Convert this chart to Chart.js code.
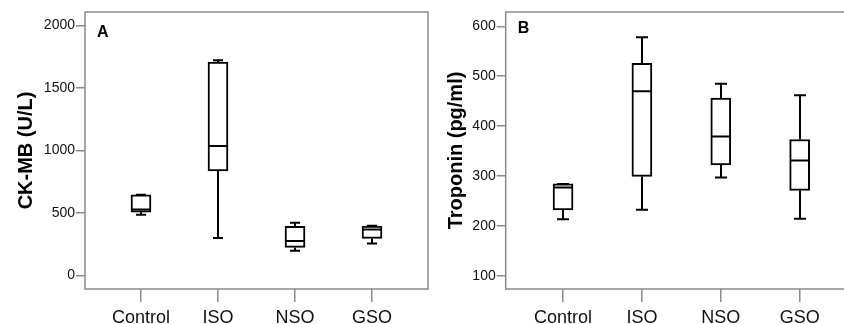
<!DOCTYPE html>
<html>
<head>
<meta charset="utf-8">
<script src="https://cdn.jsdelivr.net/npm/chart.js@4"></script>
<style>
  html, body { margin: 0; padding: 0; background: #fff; overflow: hidden; }
  body { width: 844px; height: 324px; position: relative; }
  .panel { position: absolute; top: 0; height: 324px; }
</style>
</head>
<body>
<div class="panel" style="left:0;width:432px"><canvas id="chartA" width="432" height="324"></canvas></div>
<div class="panel" style="left:420px;width:440px"><canvas id="chartB" width="440" height="324"></canvas></div>
<script>
// groups on the x axis
var categories = ['Control', 'ISO', 'NSO', 'GSO'];

// panel A: CK-MB (U/L) box plot values
var ckmbMin = [485, 299, 197, 256];
var ckmbQ1 = [505, 835, 224, 296];
var ckmbMedian = [528, 1035, 275, 368];
var ckmbQ3 = [645, 1707, 392, 395];
var ckmbMax = [645, 1722, 421, 397];
var ckmbTicks = [0, 500, 1000, 1500, 2000];

// panel B: Troponin (pg/ml) box plot values
var tropMin = [213, 232, 297, 214];
var tropQ1 = [232, 299, 322, 271];
var tropMedian = [277, 470, 379, 331];
var tropQ3 = [284, 526, 456, 373];
var tropMax = [284, 578, 485, 462];
var tropTicks = [100, 200, 300, 400, 500, 600];

Chart.defaults.font.family = '"Liberation Sans", Arial, sans-serif';
Chart.defaults.devicePixelRatio = 1;

var frameColor = '#8a8a8a';

/* draw whiskers, caps and median lines on top of the floating bars */
var boxPlotPlugin = {
    id: 'boxPlot',
    afterDatasetsDraw: function(chart, args, opts) {
        var ctx = chart.ctx;
        var xs = chart.scales.x;
        var ys = chart.scales.y;
        var half = opts.boxWidth / 2;
        var capHalf = opts.capWidth / 2;
        ctx.save();
        ctx.strokeStyle = '#000';
        ctx.lineWidth = 2;
        ctx.lineCap = 'butt';
        for (var i = 0; i < categories.length; i++) {
            var x = Math.round(xs.getPixelForValue(i));
            var yMin = ys.getPixelForValue(opts.min[i]);
            var yQ1 = ys.getPixelForValue(opts.q1[i]);
            var yMed = ys.getPixelForValue(opts.median[i]);
            var yQ3 = ys.getPixelForValue(opts.q3[i]);
            var yMax = ys.getPixelForValue(opts.max[i]);
            ctx.beginPath();
            // whiskers
            ctx.moveTo(x, yQ3);
            ctx.lineTo(x, yMax);
            ctx.moveTo(x, yQ1);
            ctx.lineTo(x, yMin);
            // caps
            ctx.moveTo(x - capHalf, yMax);
            ctx.lineTo(x + capHalf, yMax);
            ctx.moveTo(x - capHalf, yMin);
            ctx.lineTo(x + capHalf, yMin);
            // median
            ctx.moveTo(x - half, yMed);
            ctx.lineTo(x + half, yMed);
            ctx.stroke();
        }
        ctx.restore();
    }
};

/* gray frame round the plot area and the panel letter */
var framePlugin = {
    id: 'frame',
    afterDraw: function(chart, args, opts) {
        var ctx = chart.ctx;
        var a = chart.chartArea;
        ctx.save();
        ctx.strokeStyle = frameColor;
        ctx.lineWidth = 1.5;
        ctx.strokeRect(a.left, a.top, a.right - a.left, a.bottom - a.top);
        ctx.fillStyle = '#000';
        ctx.font = 'bold 16px "Liberation Sans", Arial, sans-serif';
        ctx.textBaseline = 'alphabetic';
        ctx.fillText(opts.letter, a.left + 12, opts.letterY);
        ctx.restore();
    }
};

function makePanel(canvasId, cfg) {
    var data = categories.map(function(c, i) {
        return { x: i, y: [cfg.q1[i], cfg.q3[i]] };
    });
    return new Chart(document.getElementById(canvasId), {
        type: 'bar',
        data: {
            datasets: [{
                data: data,
                backgroundColor: '#fff',
                borderColor: '#000',
                borderWidth: 2,
                borderSkipped: false,
                barThickness: 20
            }]
        },
        options: {
            responsive: false,
            animation: false,
            events: [],
            layout: { padding: { top: 12, right: cfg.padRight, bottom: 0, left: 0 } },
            plugins: {
                legend: { display: false },
                tooltip: { enabled: false },
                boxPlot: {
                    min: cfg.min, q1: cfg.q1, median: cfg.median, q3: cfg.q3, max: cfg.max,
                    boxWidth: 20, capWidth: cfg.capWidth
                },
                frame: { letter: cfg.letter, letterY: cfg.letterY }
            },
            scales: {
                x: {
                    type: 'linear',
                    offset: false,
                    min: -0.727,
                    max: 3.727,
                    afterBuildTicks: function(scale) {
                        scale.ticks = categories.map(function(c, i) { return { value: i }; });
                    },
                    afterFit: function(scale) { scale.height = 35; },
                    grid: { offset: false, drawOnChartArea: false, drawTicks: true, tickLength: 13, color: frameColor, lineWidth: 1.5 },
                    border: { display: false },
                    ticks: {
                        autoSkip: false,
                        maxRotation: 0,
                        padding: 5,
                        color: '#111',
                        font: { size: 18 },
                        callback: function(v) { return categories[v]; }
                    }
                },
                y: {
                    type: 'linear',
                    min: cfg.yMin,
                    max: cfg.yMax,
                    afterBuildTicks: function(scale) {
                        scale.ticks = cfg.ticks.map(function(t) { return { value: t }; });
                    },
                    afterFit: function(scale) { scale.width = cfg.yWidth; },
                    grid: { drawOnChartArea: false, drawTicks: true, tickLength: 9, color: frameColor, lineWidth: 1.5 },
                    border: { display: false },
                    ticks: {
                        padding: 1,
                        color: '#111',
                        font: { size: 14 },
                        callback: function(v) { return String(v); }
                    },
                    title: {
                        display: true,
                        text: cfg.title,
                        color: '#000',
                        font: { size: 20, weight: 'bold' },
                        padding: { top: cfg.titlePad, bottom: 0 }
                    }
                }
            }
        },
        plugins: [boxPlotPlugin, framePlugin]
    });
}

makePanel('chartA', {
    min: ckmbMin, q1: ckmbQ1, median: ckmbMedian, q3: ckmbQ3, max: ckmbMax,
    ticks: ckmbTicks, yMin: -109, yMax: 2107,
    title: 'CK-MB (U/L)', titlePad: 14, yWidth: 85, padRight: 4,
    capWidth: 10, letter: 'A', letterY: 37
});

makePanel('chartB', {
    min: tropMin, q1: tropQ1, median: tropMedian, q3: tropQ3, max: tropMax,
    ticks: tropTicks, yMin: 73.3, yMax: 628.7,
    title: 'Troponin (pg/ml)', titlePad: 24, yWidth: 85.7, padRight: 3,
    capWidth: 12, letter: 'B', letterY: 33
});
</script>
</body>
</html>
